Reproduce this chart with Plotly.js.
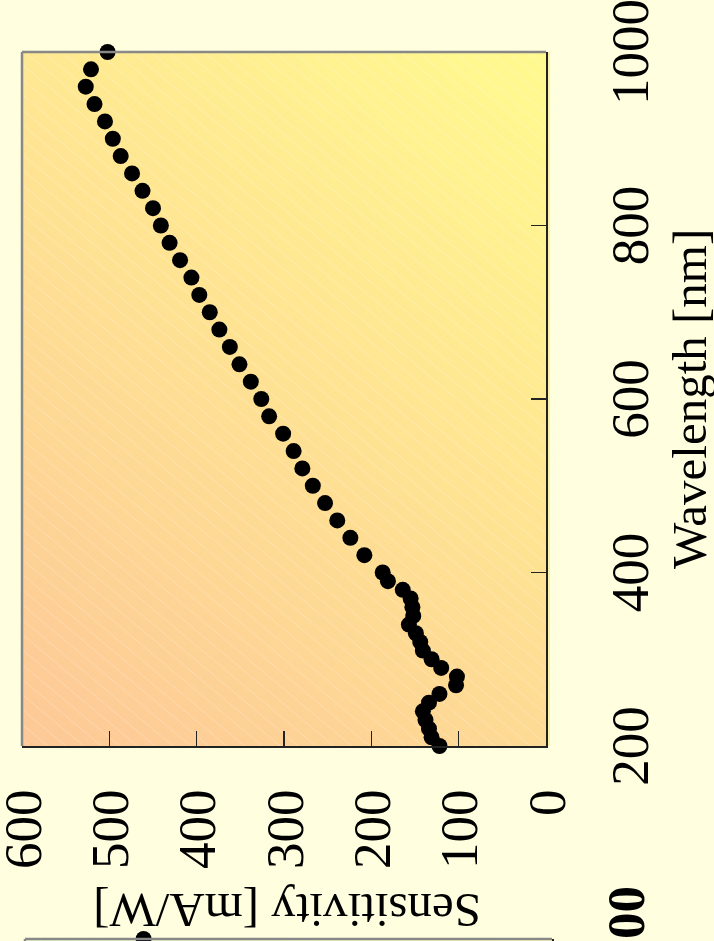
<!DOCTYPE html>
<html>
<head>
<meta charset="utf-8">
<script src="https://cdn.plot.ly/plotly-3.0.1.min.js"></script>
<style>
  html, body { margin:0; padding:0; width:714px; height:941px; overflow:hidden; background:#ffffe0; }
  #plot { position:absolute; left:0; top:0; width:1241px; height:770px;
          transform-origin:0 0; transform: translate(0px, 1241px) rotate(-90deg); }
</style>
</head>
<body>
<div id="plot"></div>
<script>
// ---- data ----
const wavelength = [200,210,220,230,240,250,260,270,280,290,300,310,320,330,340,350,360,370,380,390,400,
                    420,440,460,480,500,520,540,560,580,600,620,640,660,680,700,720,740,760,780,800,
                    820,840,860,880,900,920,940,960,980,1000];
const sensitivity = [122,131,134,138,141,134,122,103,102,120,131,141,144,149,157,152,153,155,164,181,187,
                     208,224,239,253,267,279,289,301,317,326,338,351,362,374,385,397,406,419,431,441,
                     450,462,474,487,496,505,517,527,521,502];
// neighbouring panel (only its last point is visible)
const neighborWavelength = [1000];
const neighborSensitivity = [465];

const xTicks = [200,400,600,800,1000];
const yTicks = [0,100,200,300,400,500,600];
const xTitle = 'Wavelength [nm]';
const yTitle = 'Sensitivity [mA/W]';

// ---- background gradients ----
function makeBg(w, h, c0, c1) {
  const cv = document.createElement('canvas');
  cv.width = w; cv.height = h;
  const ctx = cv.getContext('2d');
  const g = ctx.createLinearGradient(0, 0, w, h);
  g.addColorStop(0, c0); g.addColorStop(1, c1);
  ctx.fillStyle = g; ctx.fillRect(0, 0, w, h);
  ctx.strokeStyle = 'rgba(255,255,255,0.25)';
  ctx.lineWidth = 1;
  const slope = Math.tan(50 * Math.PI / 180);
  for (let k = -2 * h; k < w + 2 * h; k += 15) {
    ctx.beginPath();
    ctx.moveTo(k, h);
    ctx.lineTo(k + h / slope, 0);
    ctx.stroke();
  }
  return cv.toDataURL();
}

const W = 1241, H = 770;
const M = {l:40, r:52, t:22, b:218, pad:0};
const mainX = [0.396, 1], mainY = [0.011321, 1];
const nbX = [0, 0.22803], nbY = [0, 0.99434];
const serif = 'Liberation Serif, Times New Roman, serif';

const mainBg = makeBg(694, 524, '#fdc897', '#fffa8f');
const nbBg = makeBg(262, 527, '#e2f6cc', '#fdf9b0');

const tickFont = {family: serif, size: 53, color: '#000'};

const traces = [
  {x: wavelength, y: sensitivity, type: 'scatter', mode: 'markers',
   xaxis: 'x', yaxis: 'y', cliponaxis: false,
   marker: {color: '#000', size: 16, line: {width: 0}}},
  {x: neighborWavelength, y: neighborSensitivity, type: 'scatter', mode: 'markers',
   xaxis: 'x2', yaxis: 'y2', cliponaxis: false,
   marker: {color: '#000', size: 16, line: {width: 0}}}
];

const axBase = {
  ticks: 'inside', ticklen: 15, tickwidth: 1.5, tickcolor: '#222',
  showline: true, linecolor: '#222', linewidth: 2,
  showgrid: false, zeroline: false, automargin: false,
  ticklabeloverflow: 'allow', fixedrange: true, tickangle: 0
};

const layout = {
  width: W, height: H, margin: M,
  paper_bgcolor: '#ffffe0', plot_bgcolor: 'rgba(0,0,0,0)',
  showlegend: false,
  xaxis: Object.assign({}, axBase, {domain: mainX, range: [200, 1000], tickvals: xTicks,
          tickfont: tickFont, ticklabelstandoff: 36, anchor: 'y'}),
  yaxis: Object.assign({}, axBase, {domain: mainY, range: [0, 600], tickvals: yTicks,
          tickfont: tickFont, ticklabelstandoff: 31, anchor: 'x'}),
  xaxis2: Object.assign({}, axBase, {domain: nbX, range: [200, 1000], tickvals: xTicks,
          tickfont: {family: serif, size: 53, color: '#000', weight: 'bold'},
          ticklabelstandoff: 26, anchor: 'y2'}),
  yaxis2: Object.assign({}, axBase, {domain: nbY, range: [0, 600], tickvals: yTicks,
          tickfont: tickFont, ticklabelstandoff: 31, anchor: 'x2'}),
  images: [
    {source: mainBg, xref: 'paper', yref: 'paper', x: mainX[0], y: mainY[1],
     sizex: mainX[1] - mainX[0], sizey: mainY[1] - mainY[0],
     sizing: 'stretch', xanchor: 'left', yanchor: 'top', layer: 'below'},
    {source: nbBg, xref: 'paper', yref: 'paper', x: nbX[0], y: nbY[1],
     sizex: nbX[1] - nbX[0], sizey: nbY[1] - nbY[0],
     sizing: 'stretch', xanchor: 'left', yanchor: 'top', layer: 'below'}
  ],
  shapes: [
    {type: 'line', xref: 'paper', yref: 'paper', x0: mainX[0], x1: mainX[1], y0: mainY[1], y1: mainY[1],
     line: {color: '#888', width: 2.5}},
    {type: 'line', xref: 'paper', yref: 'paper', x0: mainX[1], x1: mainX[1], y0: mainY[0], y1: mainY[1],
     line: {color: '#888', width: 2.5}},
    {type: 'line', xref: 'paper', yref: 'paper', x0: nbX[0], x1: nbX[1], y0: nbY[1], y1: nbY[1],
     line: {color: '#888', width: 2.5}},
    {type: 'line', xref: 'paper', yref: 'paper', x0: nbX[1], x1: nbX[1], y0: nbY[0], y1: nbY[1],
     line: {color: '#888', width: 2.5}},
    {type: 'rect', xref: 'paper', yref: 'paper', x0: mainX[0], x1: mainX[1],
     y0: mainY[0] - 4 / 530, y1: mainY[0], line: {width: 0}, fillcolor: '#fbf4a6', layer: 'below'}
  ],
  annotations: [
    {text: xTitle, xref: 'paper', yref: 'paper', x: (mainX[0] + mainX[1]) / 2, y: mainY[0],
     yshift: -144, xanchor: 'center', yanchor: 'middle', showarrow: false,
     font: {family: serif, size: 49, color: '#000'}},
    {text: yTitle, xref: 'paper', yref: 'paper', x: mainX[0], y: (mainY[0] + mainY[1]) / 2,
     xshift: -164, yshift: -3, xanchor: 'center', yanchor: 'middle', textangle: -90, showarrow: false,
     font: {family: serif, size: 49, color: '#000'}}
  ]
};

Plotly.newPlot('plot', traces, layout, {displayModeBar: false, staticPlot: true});
</script>
</body>
</html>
